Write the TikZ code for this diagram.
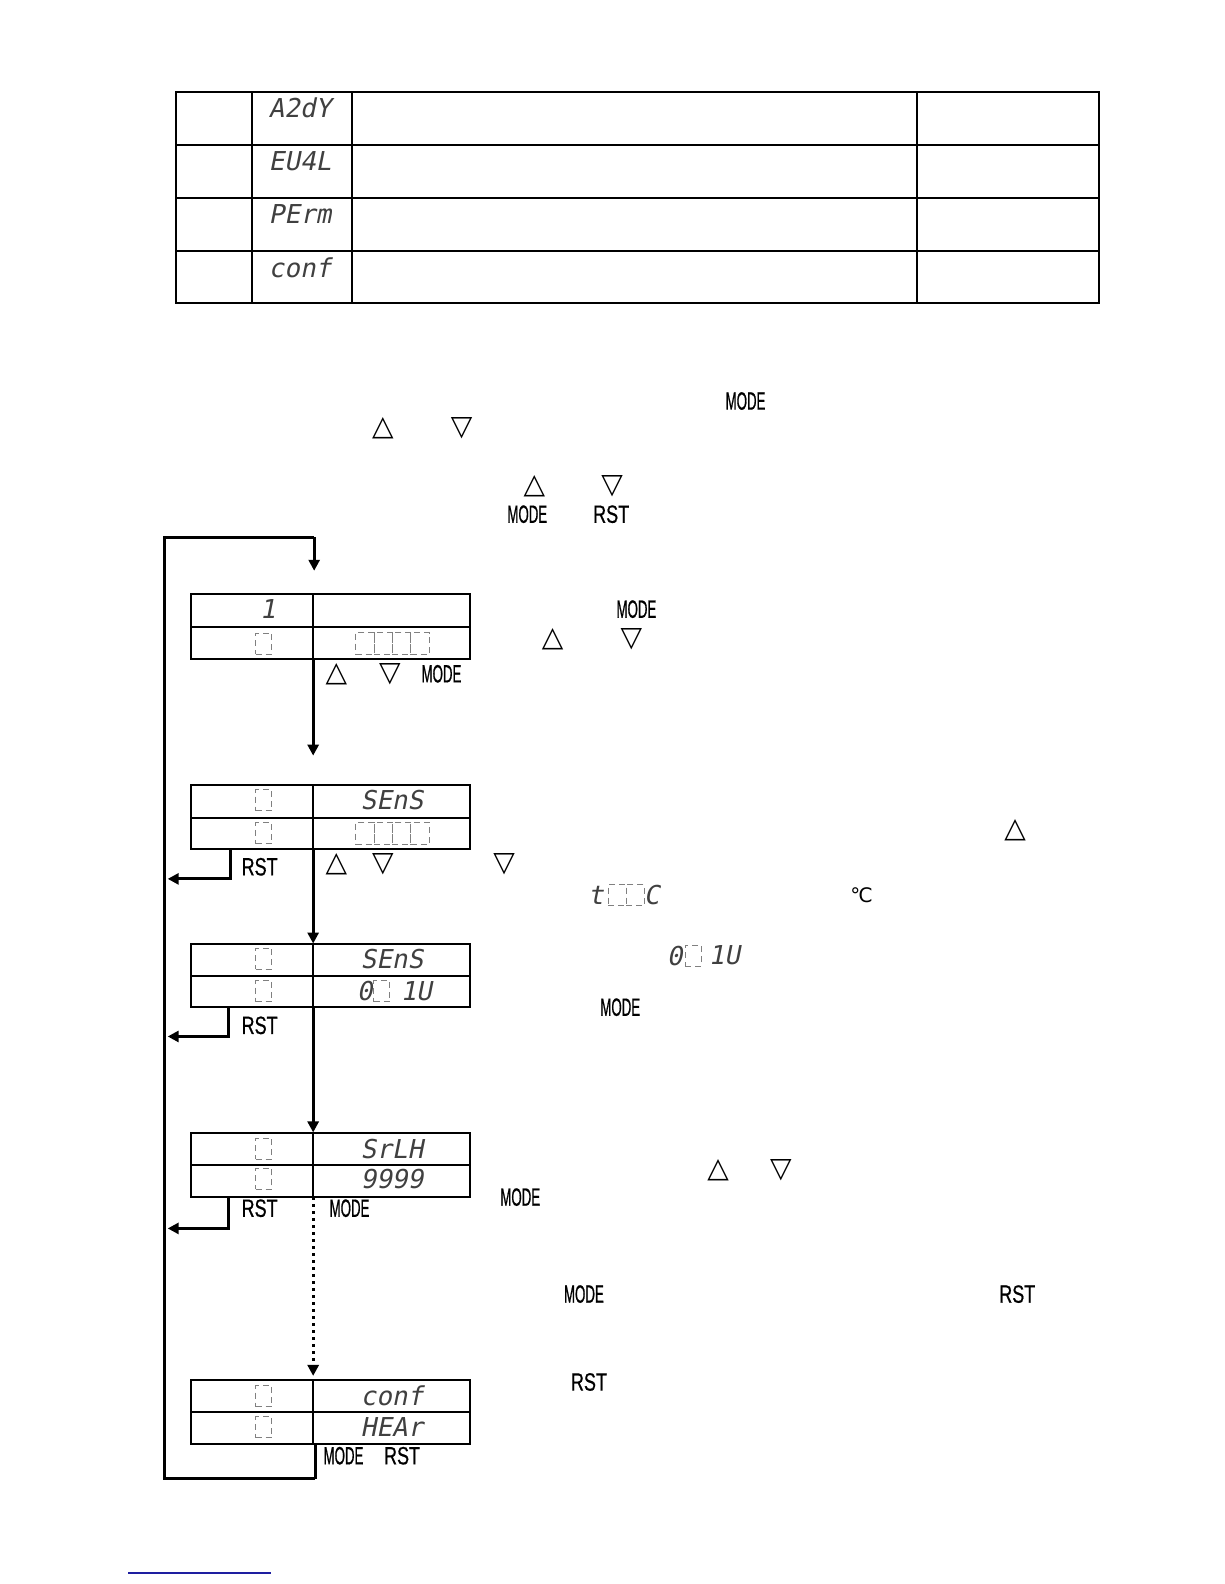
\documentclass[tikz,border=0pt]{standalone}
\usepackage{fontspec}
\setmainfont{Liberation Sans}
\newfontfamily\segfont[FakeSlant=0.2]{DejaVu Sans Mono}
\newfontfamily\modefont[FakeStretch=0.53,FakeBold=0.6]{Liberation Sans}
\newfontfamily\rstfont[FakeStretch=0.72,FakeBold=0.6]{Liberation Sans}
\newfontfamily\symfont{DejaVu Sans}
\usetikzlibrary{arrows.meta}
\begin{document}
\begin{tikzpicture}[x=0.505pt,y=-0.505pt,
 seg/.style={font=\segfont\fontsize{13}{13}\selectfont, inner sep=0pt, text=black!75},
 modek/.style={font=\modefont\fontsize{12.5}{12.5}\selectfont, inner sep=0pt},
 rstk/.style={font=\rstfont\fontsize{12.5}{12.5}\selectfont, inner sep=0pt},
 tri/.style={font=\symfont\fontsize{14}{14}\selectfont, inner sep=0pt},
 dbox/.style={draw=gray, densely dashed, line width=0.45pt, minimum width=8pt, minimum height=10.5pt, inner sep=0pt},
 dcell/.style={dbox, minimum width=9.2pt, minimum height=11pt},
 frame/.style={line width=1pt},
 flow/.style={line width=1.5pt},
 arr/.style={flow, -{Triangle[length=5.5pt,width=5.5pt]}},
 dotarr/.style={line width=1.5pt, dotted, -{Triangle[length=5.5pt,width=5.5pt]}},
]
\useasboundingbox[fill=white] (0,0) rectangle (1212,1568);

% ---------- table ----------
\draw[frame] (174,91) rectangle (1088,300);
\foreach \yy in {144,196,248} \draw[frame] (174,\yy) -- (1088,\yy);
\foreach \xx in {249,348,908} \draw[frame] (\xx,91) -- (\xx,300);
\node[seg] (t1) at (297,107) {A2dY};
\node[seg] (t2) at (297,160) {EU4L};
\node[seg] (t3) at (297,212) {PErm};
\node[seg] (t4) at (297,265) {conf};

% ---------- intro line symbols ----------
\node[modek] (m0) at (738,397) {MODE};
\node[tri] (u0) at (379,424) {△};
\node[tri] (d0) at (457,424) {▽};
\node[tri] (u1) at (529,481) {△};
\node[tri] (d1) at (606,481) {▽};
\node[modek] (m1) at (522,509) {MODE};
\node[rstk] (r1) at (605,509) {RST};

% ---------- loop frame ----------
\coordinate (topR) at (311,532);
\coordinate (topL) at (163,532);
\coordinate (botL) at (163,1464);
\coordinate (botR) at (312,1464);
\coordinate (in1) at (311,565);
\draw[flow] (botR) -- (botL) -- (topL) -- (topR);
\draw[arr] (topR) -- (in1);

% ---------- box 1 ----------
\draw[frame] (189,588) rectangle (465,652);
\draw[frame] (189,621) -- (465,621);
\draw[frame] (310,588) -- (310,652);
\node[seg] (b1a) at (265,603) {1};
\node[dbox] (b1c) at (261,637) {};
\foreach \i in {0,...,3} \node[dcell] (b1d\i) at ({352+9.1+18.25*\i},637) {};
\coordinate (b1out) at (310,652);
\coordinate (b1end) at (310,748);
\draw[arr] (b1out) -- (b1end);
\node[tri] (l1u) at (333,667) {△};
\node[tri] (l1d) at (386,667) {▽};
\node[modek] (l1m) at (437,667) {MODE};

\node[modek] (s1m) at (630,603) {MODE};
\node[tri] (s1u) at (547,633) {△};
\node[tri] (s1d) at (625,633) {▽};

% ---------- box 2 ----------
\draw[frame] (189,777) rectangle (465,840);
\draw[frame] (189,810) -- (465,810);
\draw[frame] (310,777) -- (310,840);
\node[dbox] (b2a) at (261,792) {};
\node[seg] (b2b) at (388,792) {SEnS};
\node[dbox] (b2c) at (261,825) {};
\foreach \i in {0,...,3} \node[dcell] (b2d\i) at ({352+9.1+18.25*\i},825) {};
\coordinate (b2r) at (228,840);
\coordinate (b2rc) at (228,870);
\coordinate (b2re) at (166,870);
\draw[arr] (b2r) -- (b2rc) -- (b2re);
\node[rstk] (b2rl) at (257,858) {RST};
\node[tri] (l2u) at (333,855) {△};
\node[tri] (l2d) at (379,855) {▽};
\node[tri] (l2d2) at (499,855) {▽};
\coordinate (b2out) at (310,840);
\coordinate (b3in) at (310,934);
\draw[arr] (b2out) -- (b3in);

\node[tri] (s2u) at (1005,822) {△};
\node[seg] (s2t) at (590,886) {t};
\node[dbox, minimum width=9pt] (s2d1) at (611,886) {};
\node[dbox, minimum width=9pt] (s2d2) at (629,886) {};
\node[seg] (s2c) at (645,886) {C};
\node[font=\symfont\fontsize{10}{10}\selectfont, inner sep=0pt] (deg) at (853,886) {℃};

% ---------- box 3 ----------
\draw[frame] (189,934) rectangle (465,997);
\draw[frame] (189,966) -- (465,966);
\draw[frame] (310,934) -- (310,997);
\node[dbox] (b3a) at (261,949) {};
\node[seg] (b3b) at (388,949) {SEnS};
\node[dbox] (b3c) at (261,981) {};
\node[seg] (b3d) at (361,981) {0};
\node[dbox] (b3e) at (378,981) {};
\node[seg] (b3f) at (412,981) {1U};
\coordinate (b3r) at (226,997);
\coordinate (b3rc) at (226,1026);
\coordinate (b3re) at (166,1026);
\draw[arr] (b3r) -- (b3rc) -- (b3re);
\node[rstk] (b3rl) at (257,1015) {RST};
\coordinate (b3out) at (310,997);
\coordinate (b4in) at (310,1121);
\draw[arr] (b3out) -- (b4in);

\node[seg] (s3a) at (668,946) {0};
\node[dbox] (s3b) at (686,946) {};
\node[seg] (s3c) at (717,946) {1U};
\node[modek] (s3m) at (614,997) {MODE};

% ---------- box 4 ----------
\draw[frame] (189,1122) rectangle (465,1185);
\draw[frame] (189,1153) -- (465,1153);
\draw[frame] (310,1122) -- (310,1185);
\node[dbox] (b4a) at (261,1137) {};
\node[seg] (b4b) at (388,1137) {SrLH};
\node[dbox] (b4c) at (261,1167) {};
\node[seg] (b4d) at (388,1167) {9999};
\coordinate (b4r) at (226,1185);
\coordinate (b4rc) at (226,1216);
\coordinate (b4re) at (166,1216);
\draw[arr] (b4r) -- (b4rc) -- (b4re);
\node[rstk] (b4rl) at (257,1196) {RST};
\node[modek] (b4ml) at (346,1196) {MODE};
\coordinate (b4out) at (310,1185);
\coordinate (b5in) at (310,1362);
\draw[dotarr] (b4out) -- (b5in);

\node[tri] (s4u) at (711,1158) {△};
\node[tri] (s4d) at (773,1158) {▽};
\node[modek] (s4m) at (515,1185) {MODE};
\node[modek] (s5m) at (578,1281) {MODE};
\node[rstk] (s5r) at (1007,1281) {RST};
\node[rstk] (s6r) at (583,1368) {RST};

% ---------- box 5 ----------
\draw[frame] (189,1366) rectangle (465,1429);
\draw[frame] (189,1398) -- (465,1398);
\draw[frame] (310,1366) -- (310,1429);
\node[dbox] (b5a) at (261,1382) {};
\node[seg] (b5b) at (388,1382) {conf};
\node[dbox] (b5c) at (261,1413) {};
\node[seg] (b5d) at (388,1413) {HEAr};
\coordinate (b5out) at (312,1429);
\draw[flow] (b5out) -- (botR);
\node[modek] (b5ml) at (340,1441) {MODE};
\node[rstk] (b5rl) at (398,1441) {RST};

% ---------- footer link ----------
\coordinate (f1) at (127,1557);
\coordinate (f2) at (268,1557);
\draw[line width=1pt, color={rgb,255:red,30;green,30;blue,160}] (f1) -- (f2);
\end{tikzpicture}
\end{document}
